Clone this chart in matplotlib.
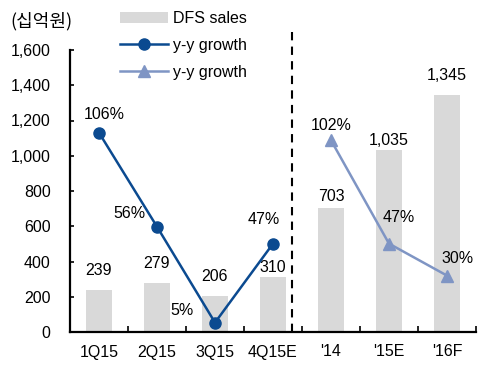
# DFS sales bars with y-y growth lines (quarterly and yearly)

from matplotlib import pyplot as plt

plt.rcParams['font.family'] = ['Liberation Sans', 'Noto Sans CJK KR', 'DejaVu Sans']

categories = ['1Q15', '2Q15', '3Q15', '4Q15E', "'14", "'15E", "'16F"]
sales = [239, 279, 206, 310, 703, 1035, 1345]
sales_labels = ['239', '279', '206', '310', '703', '1,035', '1,345']

q_growth = [106, 56, 5, 47]
y_growth = [102, 47, 30]
q_growth_labels = ['106%', '56%', '5%', '47%']
y_growth_labels = ['102%', '47%', '30%']

ytick_vals = [0, 200, 400, 600, 800, 1000, 1200, 1400, 1600]
ytick_labels = ['0', '200', '400', '600', '800', '1,000', '1,200', '1,400', '1,600']

# label offsets in pixels (x, y)
sales_off = [19, 19, 19, 10, 12, 9, 19]
q_off = [(5, 18), (-28, 13), (-33, 12), (-9, 24)]
y_off = [(0, 15), (10, 26), (11, 17)]

dark = '#0B4A90'
light = '#7F95C4'
grey = '#D9D9D9'
fs = 11.5

fig = plt.figure(figsize=(4.87, 3.75), dpi=100)
ax = fig.add_axes([70/487, 43/375, 406/487, 282/375])
ax2 = ax.twinx()

x = list(range(len(categories)))
ax.bar(x, sales, width=0.45, color=grey, label='DFS sales', zorder=1)
for i, v in enumerate(sales):
    ax.annotate(sales_labels[i], (i, v), xytext=(0, sales_off[i]),
                textcoords='offset pixels', ha='center', va='center', fontsize=fs)

xq = x[:4]
xy = x[4:]
ax2.plot(xq, q_growth, color=dark, marker='o', markersize=8, lw=1.8, label='y-y growth')
ax2.plot(xy, y_growth, color=light, marker='^', markersize=8, lw=1.8, label='y-y growth')
for i, v in enumerate(q_growth):
    ax2.annotate(q_growth_labels[i], (xq[i], v), xytext=q_off[i],
                 textcoords='offset pixels', ha='center', va='center', fontsize=fs)
for i, v in enumerate(y_growth):
    ax2.annotate(y_growth_labels[i], (xy[i], v), xytext=y_off[i],
                 textcoords='offset pixels', ha='center', va='center', fontsize=fs)

ax.set_xlim(-0.5, 6.5)
ax.set_ylim(0, 1600)
ax2.set_ylim(0, 150)
ax2.axis('off')

ax.set_yticks(ytick_vals)
ax.set_yticklabels(ytick_labels, fontsize=fs)
ax.set_xticks(x)
ax.set_xticklabels(categories, fontsize=fs)
ax.set_xticks([i + 0.5 for i in x], minor=True)
ax.tick_params(axis='x', which='major', length=0, pad=9)
ax.tick_params(axis='x', which='minor', direction='in', length=4, width=1.2)
ax.tick_params(axis='y', direction='in', length=3, width=1.2, pad=14)
for s in ['top', 'right']:
    ax.spines[s].set_visible(False)
for s in ['left', 'bottom']:
    ax.spines[s].set_linewidth(1.6)

# divider between quarterly and yearly
ax.plot([3.33, 3.33], [0, 1730], color='black', lw=1.5, ls=(0, (4, 3)), clip_on=False)

fig.text(10/487, 1 - 21/375, '(십억원)', fontsize=13, va='center', ha='left',
         family=['Noto Sans CJK KR', 'DejaVu Sans'])

h1, l1 = ax.get_legend_handles_labels()
h2, l2 = ax2.get_legend_handles_labels()
fig.legend(h1 + h2, l1 + l2, loc='upper left', bbox_to_anchor=(120/487, 1 - 11/375),
           frameon=False, fontsize=fs, handlelength=3.0, labelspacing=0.75,
           borderpad=0, borderaxespad=0, handletextpad=0.3)

fig.savefig('out.png', dpi=100)
